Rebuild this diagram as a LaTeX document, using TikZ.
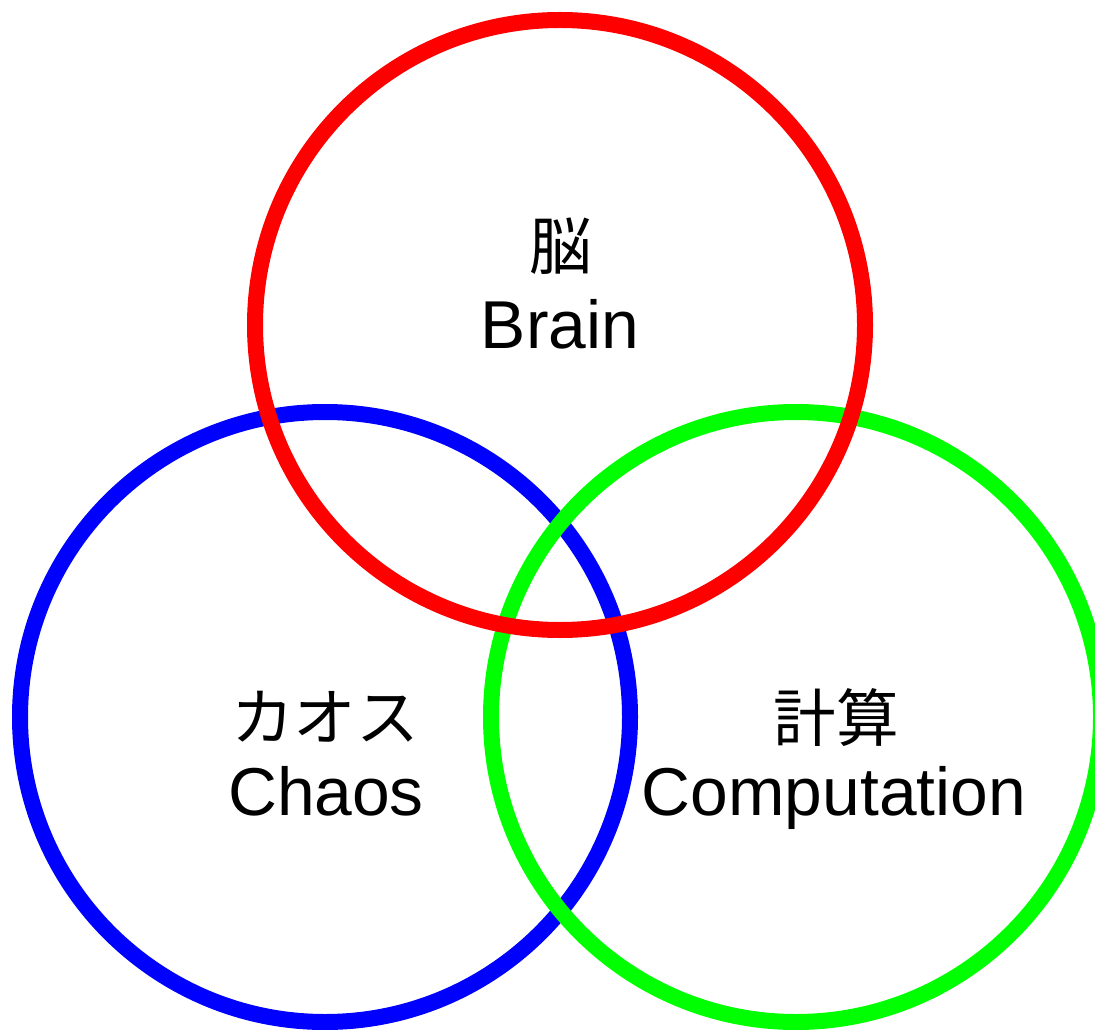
\documentclass[tikz,border=0pt]{standalone}
\usepackage{fontspec}
\setmainfont{Liberation Sans}
\newfontfamily\cjk{Noto Sans CJK JP}
\begin{document}
\begin{tikzpicture}[x=0.75pt,y=-0.75pt]
  \tikzset{
    ring/.style={line width=12pt},
    label/.style={inner sep=0pt, anchor=base, font=\fontsize{50.8pt}{56pt}\selectfont},
    kanji/.style={inner sep=0pt, anchor=base, font=\cjk\fontsize{47pt}{52pt}\selectfont}
  }
  \clip (0,0) rectangle (1095,1030);
  \fill[white] (0,0) rectangle (1095,1030);
  % the three rings
  \draw[ring, draw={rgb,255:red,0;green,0;blue,255}] (325,717) circle[radius=305];
  \draw[ring, draw={rgb,255:red,0;green,255;blue,0}] (796,717) circle[radius=305];
  \draw[ring, draw={rgb,255:red,255;green,0;blue,0}] (560,325) circle[radius=305];
  % captions
  \node[kanji] (brainjp) at (561,270) {脳};
  \node[label] (brain) at (560,349) {Brain};
  \node[kanji] (chaosjp) at (325,740) {カオス};
  \node[label] (chaos) at (326,815) {Chaos};
  \node[kanji] (compjp) at (836,741) {計算};
  \node[label] (comp) at (834,815) {Computation};
\end{tikzpicture}
\end{document}
